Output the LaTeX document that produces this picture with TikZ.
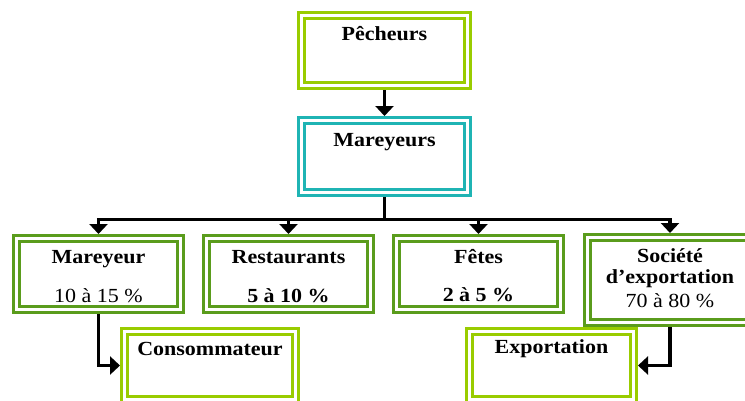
\documentclass[tikz,border=0pt]{standalone}
\usepackage{fontspec}
\setmainfont{Liberation Serif}[FakeStretch=1.1]
\usetikzlibrary{arrows.meta}
\definecolor{lgreen}{HTML}{99CC00}
\definecolor{tealc}{HTML}{1FB4B4}
\definecolor{dgreen}{HTML}{5A9C1C}
\begin{document}
\begin{tikzpicture}[x=1pt,y=-1pt,
  box/.style={rectangle, draw=#1, line width=3pt, double=white, double distance=3pt, outer sep=4.5pt, inner sep=0pt},
  txt/.style={font=\fontsize{20}{22}\selectfont\bfseries, anchor=base, inner sep=0pt},
  txtn/.style={font=\fontsize{20}{22}\selectfont, anchor=base, inner sep=0pt},
  conn/.style={line width=3.5pt, black},
  arr/.style={conn, -{Triangle[width=18pt,length=10pt]}}]
\useasboundingbox (0,0) rectangle (745,400);
\clip (0,0) rectangle (745,400);
\fill[white] (0,0) rectangle (745,400);
% boxes
\node[box=lgreen, minimum width=166pt, minimum height=70pt] (pech) at (384.5,50.5) {};
\node[box=tealc, minimum width=166pt, minimum height=72pt] (mars) at (384.5,156.5) {};
\node[box=dgreen, minimum width=164pt, minimum height=71pt] (mrey) at (98.5,274) {};
\node[box=dgreen, minimum width=164pt, minimum height=71pt] (rest) at (288.5,274) {};
\node[box=dgreen, minimum width=164pt, minimum height=71pt] (fete) at (478.5,274) {};
\node[box=dgreen, minimum width=165pt, minimum height=85pt] (soc) at (670,280) {};
\node[box=lgreen, minimum width=171pt, minimum height=68pt] (cons) at (210,365.5) {};
\node[box=lgreen, minimum width=164pt, minimum height=68pt] (expo) at (551.5,365.5) {};
% texts
\node[txt] (tpech) at (384.5,40) {Pêcheurs};
\node[txt] (tmars) at (384.5,146) {Mareyeurs};
\node[txt] (tmrey) at (98.5,263) {Mareyeur};
\node[txtn] (pmrey) at (98.5,302) {10 à 15 \%};
\node[txt] (trest) at (288.5,263) {Restaurants};
\node[txt] (prest) at (288.5,302) {5 à 10 \%};
\node[txt] (tfete) at (478.5,263) {Fêtes};
\node[txt] (pfete) at (478.5,301) {2 à 5 \%};
\node[txt] (tsoc1) at (670,262) {Société};
\node[txt] (tsoc2) at (670,283) {d’exportation};
\node[txtn] (psoc) at (670,307) {70 à 80 \%};
\node[txt] (tcons) at (210,355) {Consommateur};
\node[txt] (texpo) at (551.5,353) {Exportation};
% connectors
\coordinate (bus) at (384.5,219.5);
\coordinate (busL) at (96.75,219.5);
\coordinate (busR) at (671.75,219.5);
\draw[arr] (pech) -- (mars);
\draw[conn] (mars.south) -- (bus);
\draw[conn] (busL) -- (busR);
\draw[arr] (mrey.north |- bus) -- (mrey.north);
\draw[arr] (rest.north |- bus) -- (rest.north);
\draw[arr] (fete.north |- bus) -- (fete.north);
\draw[arr] (soc.north |- bus) -- (soc.north);
\draw[arr] (mrey.south) |- (cons.west);
\draw[arr] (soc.south) |- (expo.east);
\end{tikzpicture}
\end{document}
